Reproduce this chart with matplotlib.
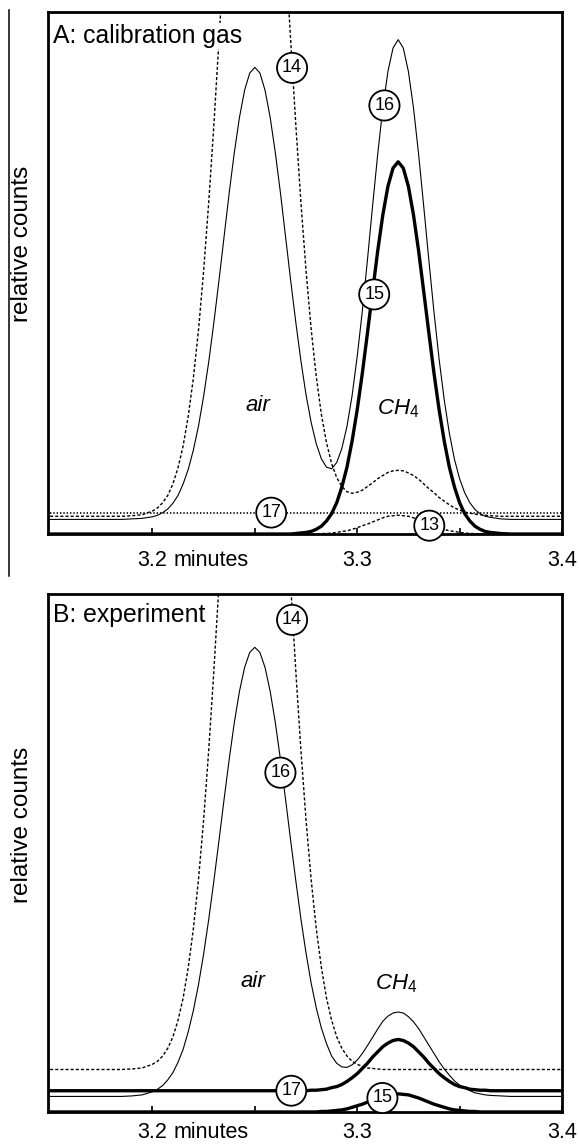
import matplotlib
matplotlib.use('Agg')
import matplotlib.pyplot as plt
from matplotlib.lines import Line2D

plt.rcParams['font.family'] = ['Liberation Sans', 'DejaVu Sans']
plt.rcParams['mathtext.fontset'] = 'custom'
plt.rcParams['mathtext.rm'] = 'Liberation Sans'
plt.rcParams['mathtext.it'] = 'Liberation Sans:italic'
plt.rcParams['lines.scale_dashes'] = False

# retention time grid (minutes)
time = [3.145, 3.160, 3.170, 3.180, 3.185, 3.190, 3.195, 3.200,
        3.2025, 3.205, 3.2075, 3.210, 3.2125, 3.215, 3.2175, 3.220, 3.2225, 3.225,
        3.2275, 3.230, 3.2325, 3.235, 3.2375, 3.240, 3.2425, 3.245, 3.2475, 3.250,
        3.2525, 3.255, 3.2575, 3.260, 3.2625, 3.265, 3.2675, 3.270, 3.2725, 3.275,
        3.2775, 3.280, 3.2825, 3.285, 3.2875, 3.290, 3.2925, 3.295, 3.2975, 3.300,
        3.3025, 3.305, 3.3075, 3.310, 3.3125, 3.315, 3.3175, 3.320, 3.3225, 3.325,
        3.3275, 3.330, 3.3325, 3.335, 3.3375, 3.340, 3.3425, 3.345, 3.3475, 3.350,
        3.3525, 3.355, 3.3575, 3.360, 3.3625, 3.365, 3.370, 3.375, 3.380, 3.390, 3.405]

# ---- Panel A: calibration gas (relative counts) ----
a_m16 = [0.028, 0.028, 0.028, 0.028, 0.028, 0.029, 0.030, 0.033,
         0.036, 0.041, 0.048, 0.059, 0.074, 0.096, 0.124, 0.161, 0.207, 0.264,
         0.330, 0.405, 0.486, 0.570, 0.654, 0.731, 0.798, 0.850, 0.883, 0.894,
         0.883, 0.850, 0.798, 0.731, 0.654, 0.570, 0.486, 0.406, 0.332, 0.267,
         0.214, 0.173, 0.144, 0.128, 0.125, 0.137, 0.164, 0.206, 0.265, 0.340,
         0.427, 0.525, 0.628, 0.727, 0.816, 0.886, 0.931, 0.947, 0.931, 0.886,
         0.816, 0.727, 0.627, 0.524, 0.425, 0.335, 0.257, 0.193, 0.143, 0.106,
         0.079, 0.060, 0.047, 0.039, 0.034, 0.032, 0.029, 0.028, 0.028, 0.028, 0.028]

a_m15 = [0, 0, 0, 0, 0, 0, 0, 0,
         0, 0, 0, 0, 0, 0, 0, 0, 0, 0,
         0, 0, 0, 0, 0, 0, 0, 0, 0, 0,
         0, 0, 0, 0, 0, 0, 0, 0.001, 0.002, 0.003,
         0.005, 0.009, 0.015, 0.025, 0.039, 0.060, 0.090, 0.128, 0.178, 0.238,
         0.308, 0.385, 0.464, 0.542, 0.611, 0.666, 0.701, 0.713, 0.701, 0.666,
         0.611, 0.542, 0.464, 0.385, 0.308, 0.238, 0.178, 0.128, 0.090, 0.060,
         0.039, 0.025, 0.015, 0.009, 0.005, 0.003, 0.001, 0, 0, 0, 0]

a_m14 = [0.034, 0.034, 0.034, 0.034, 0.034, 0.035, 0.037, 0.044,
         0.050, 0.060, 0.074, 0.096, 0.127, 0.169, 0.226, 0.299, 0.391, 0.504,
         0.636, 0.784, 0.946, 1.114, 1.280, 1.435, 1.568, 1.672, 1.737, 1.759,
         1.737, 1.672, 1.568, 1.435, 1.280, 1.114, 0.946, 0.785, 0.636, 0.505,
         0.393, 0.302, 0.229, 0.175, 0.135, 0.108, 0.091, 0.081, 0.078, 0.080,
         0.084, 0.091, 0.098, 0.106, 0.112, 0.118, 0.121, 0.122, 0.121, 0.117,
         0.112, 0.105, 0.096, 0.087, 0.079, 0.070, 0.063, 0.056, 0.050, 0.046,
         0.042, 0.040, 0.038, 0.037, 0.036, 0.035, 0.034, 0.034, 0.034, 0.034, 0.034]

a_m13 = [0, 0, 0, 0, 0, 0, 0, 0,
         0, 0, 0, 0, 0, 0, 0, 0, 0, 0,
         0, 0, 0, 0, 0, 0, 0, 0, 0, 0,
         0, 0, 0, 0, 0, 0, 0, 0, 0, 0,
         0, 0, 0.001, 0.001, 0.002, 0.003, 0.005, 0.006, 0.009, 0.012,
         0.016, 0.019, 0.023, 0.027, 0.031, 0.034, 0.035, 0.036, 0.035, 0.034,
         0.031, 0.027, 0.023, 0.019, 0.016, 0.012, 0.009, 0.006, 0.005, 0.003,
         0.002, 0.001, 0.001, 0, 0, 0, 0, 0, 0, 0, 0]

a_m17_time = [3.145, 3.405]
a_m17 = [0.040, 0.040]

# ---- Panel B: experiment (relative counts) ----
b_m16 = [0.030, 0.030, 0.030, 0.030, 0.030, 0.031, 0.033, 0.039,
         0.044, 0.051, 0.062, 0.076, 0.096, 0.121, 0.155, 0.196, 0.246, 0.305,
         0.372, 0.446, 0.524, 0.604, 0.681, 0.752, 0.812, 0.858, 0.887, 0.897,
         0.887, 0.858, 0.812, 0.752, 0.681, 0.604, 0.524, 0.447, 0.373, 0.307,
         0.249, 0.201, 0.162, 0.132, 0.108, 0.094, 0.087, 0.086, 0.091, 0.100,
         0.113, 0.128, 0.144, 0.160, 0.175, 0.185, 0.191, 0.193, 0.191, 0.184,
         0.174, 0.161, 0.145, 0.129, 0.113, 0.097, 0.083, 0.071, 0.060, 0.052,
         0.046, 0.041, 0.037, 0.035, 0.033, 0.032, 0.031, 0.030, 0.030, 0.030, 0.030]

b_m14 = [0.082, 0.082, 0.082, 0.082, 0.082, 0.083, 0.085, 0.092,
         0.098, 0.108, 0.123, 0.145, 0.177, 0.220, 0.279, 0.354, 0.449, 0.564,
         0.699, 0.852, 1.018, 1.190, 1.361, 1.519, 1.656, 1.762, 1.829, 1.852,
         1.829, 1.762, 1.656, 1.519, 1.361, 1.190, 1.018, 0.852, 0.699, 0.564,
         0.449, 0.354, 0.279, 0.220, 0.177, 0.145, 0.123, 0.108, 0.098, 0.092,
         0.088, 0.085, 0.084, 0.083, 0.082, 0.082, 0.082, 0.082, 0.082, 0.082,
         0.082, 0.082, 0.082, 0.082, 0.082, 0.082, 0.082, 0.082, 0.082, 0.082,
         0.082, 0.082, 0.082, 0.082, 0.082, 0.082, 0.082, 0.082, 0.082, 0.082, 0.082]

b_m17 = [0.041, 0.041, 0.041, 0.041, 0.041, 0.041, 0.041, 0.041,
         0.041, 0.041, 0.041, 0.041, 0.041, 0.041, 0.041, 0.041, 0.041, 0.041,
         0.041, 0.041, 0.041, 0.041, 0.041, 0.041, 0.041, 0.041, 0.041, 0.041,
         0.041, 0.041, 0.041, 0.041, 0.041, 0.041, 0.041, 0.041, 0.041, 0.041,
         0.042, 0.042, 0.043, 0.044, 0.047, 0.049, 0.053, 0.059, 0.066, 0.074,
         0.084, 0.094, 0.106, 0.116, 0.126, 0.133, 0.138, 0.140, 0.138, 0.133,
         0.126, 0.116, 0.106, 0.094, 0.084, 0.074, 0.066, 0.059, 0.053, 0.049,
         0.047, 0.044, 0.043, 0.042, 0.042, 0.041, 0.041, 0.041, 0.041, 0.041, 0.041]

b_m15 = [0, 0, 0, 0, 0, 0, 0, 0,
         0, 0, 0, 0, 0, 0, 0, 0, 0, 0,
         0, 0, 0, 0, 0, 0, 0, 0, 0, 0,
         0, 0, 0, 0, 0, 0, 0, 0, 0, 0,
         0, 0, 0.001, 0.001, 0.002, 0.003, 0.004, 0.006, 0.009, 0.012,
         0.015, 0.019, 0.023, 0.027, 0.030, 0.033, 0.034, 0.035, 0.034, 0.033,
         0.030, 0.027, 0.023, 0.019, 0.015, 0.012, 0.009, 0.006, 0.004, 0.003,
         0.002, 0.001, 0.001, 0, 0, 0, 0, 0, 0, 0, 0]

# circled mass labels
a_tags = ['14', '16', '15', '17', '13']
a_tag_x = [3.2682, 3.3133, 3.3083, 3.2580, 3.3352]
a_tag_y = [0.893, 0.821, 0.459, 0.041, 0.016]
b_tags = ['14', '16', '17', '15']
b_tag_x = [3.2682, 3.2625, 3.2678, 3.3123]
b_tag_y = [0.950, 0.655, 0.041, 0.027]

tick_vals = [3.2, 3.3, 3.4]
tick_text = ['3.2', '3.3', '3.4']
minor_vals = [3.25, 3.35]

THIN = dict(color='black', lw=0.8, zorder=3)
THICK = dict(color='black', lw=2.4, zorder=4, solid_joinstyle='round')
DASH = dict(color='black', lw=1.0, ls=(0, (2.2, 1.5)), zorder=2)
DOT = dict(color='black', lw=1.2, ls=(0, (1.0, 1.4)), zorder=2)

TICK_FS = 15.5

fig = plt.figure(figsize=(5.79, 11.44), dpi=100)
axA = fig.add_axes([0.0829, 0.5332, 0.8877, 0.4563])
axB = fig.add_axes([0.0829, 0.0280, 0.8877, 0.4528])


def style(ax, pad):
    ax.set_xlim(3.149, 3.4)
    ax.set_ylim(0, 1)
    ax.set_yticks([])
    ax.set_xticks(tick_vals)
    ax.set_xticklabels(tick_text)
    ax.set_xticks(minor_vals, minor=True)
    ax.tick_params(axis='x', which='both', direction='in', length=4, width=1.2,
                   labelsize=TICK_FS, pad=pad)
    for s in ax.spines.values():
        s.set_linewidth(2.0)
    ax.annotate('minutes', xy=(3.2, 0), xycoords=('data', 'axes fraction'),
                xytext=(1.39 * TICK_FS / 2 + 0.278 * TICK_FS, -pad),
                textcoords='offset points', ha='left', va='top', fontsize=TICK_FS)


def tags(ax, names, xs, ys):
    for n, x, y in zip(names, xs, ys):
        ax.text(x, y, n, ha='center', va='center', fontsize=13, zorder=6,
                bbox=dict(boxstyle='circle,pad=0.28', fc='white', ec='black', lw=1.3))


# Panel A
axA.plot(a_m17_time, a_m17, **DOT)
axA.plot(time, a_m14, **DASH)
axA.plot(time, a_m13, **DASH)
axA.plot(time, a_m16, **THIN)
axA.plot(time, a_m15, **THICK)
style(axA, 11.5)
tags(axA, a_tags, a_tag_x, a_tag_y)
axA.text(0.0097, 0.9406, 'A: calibration gas', transform=axA.transAxes, fontsize=17.8,
         ha='left', va='baseline', zorder=7,
         bbox=dict(boxstyle='square,pad=0.05', fc='white', ec='none'))
axA.text(3.2516, 0.236, 'air', fontsize=16, style='italic', ha='center', va='baseline')
axA.text(3.3200, 0.230, r'$\mathit{CH}_{\mathit{4}}$', fontsize=16, ha='center', va='baseline')

# Panel B
axB.plot(time, b_m14, **DASH)
axB.plot(time, b_m16, **THIN)
axB.plot(time, b_m17, **THICK)
axB.plot(time, b_m15, **THICK)
style(axB, 7.5)
tags(axB, b_tags, b_tag_x, b_tag_y)
axB.text(0.0097, 0.946, 'B: experiment', transform=axB.transAxes, fontsize=17.8,
         ha='left', va='baseline', zorder=7,
         bbox=dict(boxstyle='square,pad=0.05', fc='white', ec='none'))
axB.text(3.2490, 0.241, 'air', fontsize=16, style='italic', ha='center', va='baseline')
axB.text(3.3190, 0.237, r'$\mathit{CH}_{\mathit{4}}$', fontsize=16, ha='center', va='baseline')

fig.text(0.038, 0.787, 'relative counts', rotation=90, ha='center', va='center', fontsize=17.5)
fig.text(0.038, 0.279, 'relative counts', rotation=90, ha='center', va='center', fontsize=17.5)

fig.add_artist(Line2D([9 / 579, 9 / 579], [1 - 576 / 1144, 1 - 10 / 1144],
                      transform=fig.transFigure, color='black', lw=1.1))

fig.savefig('out.png', dpi=100)
